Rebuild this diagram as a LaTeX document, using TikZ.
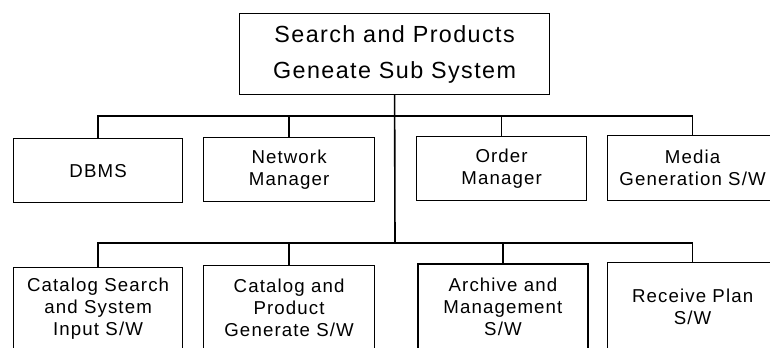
\documentclass[tikz,border=0pt]{standalone}
\usepackage{fontspec}
\setmainfont{Liberation Sans}[LetterSpace=6]
\usepackage{tikz}

\tikzset{
  unit/.style={draw, line width=0.9pt, align=center, inner sep=0pt,
    anchor=north west, font=\fontsize{14}{16.5}\selectfont},
  link/.style={line width=1.2pt}
}

\begin{document}
\begin{tikzpicture}[x=0.75pt,y=0.75pt,yscale=-1,xscale=1]
\useasboundingbox (0,0) rectangle (770,347);
\clip (0,0) rectangle (770,347);

% Top box
\node [draw, line width=0.9pt, align=center, inner sep=0pt, anchor=north west,
  minimum width=232.5pt, minimum height=60.75pt,
  font=\fontsize{17.5}{27}\selectfont] (top) at (239,13)
  {Search and Products\\Geneate Sub System};

% First row
\node [unit, minimum width=126.75pt, minimum height=48pt] (dbms) at (13,138) {DBMS};
\node [unit, minimum width=128.25pt, minimum height=48pt] (network) at (203,137) {Network\\Manager};
\node [unit, minimum width=127.5pt, minimum height=48pt] (order) at (416,136) {Order\\Manager};
\node [unit, minimum width=127.5pt, minimum height=48.75pt] (media) at (607,135) {Media\\Generation S/W};

% Second row
\node [unit, minimum width=126.75pt, minimum height=62pt] (catsearch) at (13,267) {Catalog Search\\and System\\Input S/W};
\node [unit, minimum width=128.25pt, minimum height=63.5pt] (catprod) at (203,265) {Catalog and\\Product\\Generate S/W};
\node [unit, line width=1.4pt, minimum width=127.5pt, minimum height=65pt] (archive) at (417,263) {Archive and\\Management\\S/W};
\node [unit, minimum width=127.5pt, minimum height=66pt] (receive) at (607,262) {Receive Plan\\S/W};

% Buses
\coordinate (bus1) at (395,116);
\coordinate (bus2) at (395,243);

\draw [link] (top.south) -- (bus2);
\draw [link] (dbms.north) -- (dbms.north |- bus1) -- (media.north |- bus1) -- (media.north);
\draw [link] (network.north) -- (network.north |- bus1);
\draw [link] (order.north) -- (order.north |- bus1);

\draw [link] (catsearch.north) -- (catsearch.north |- bus2) -- (receive.north |- bus2) -- (receive.north);
\draw [link] (catprod.north) -- (catprod.north |- bus2);
\draw [link] (archive.north) -- (archive.north |- bus2);

\end{tikzpicture}
\end{document}
